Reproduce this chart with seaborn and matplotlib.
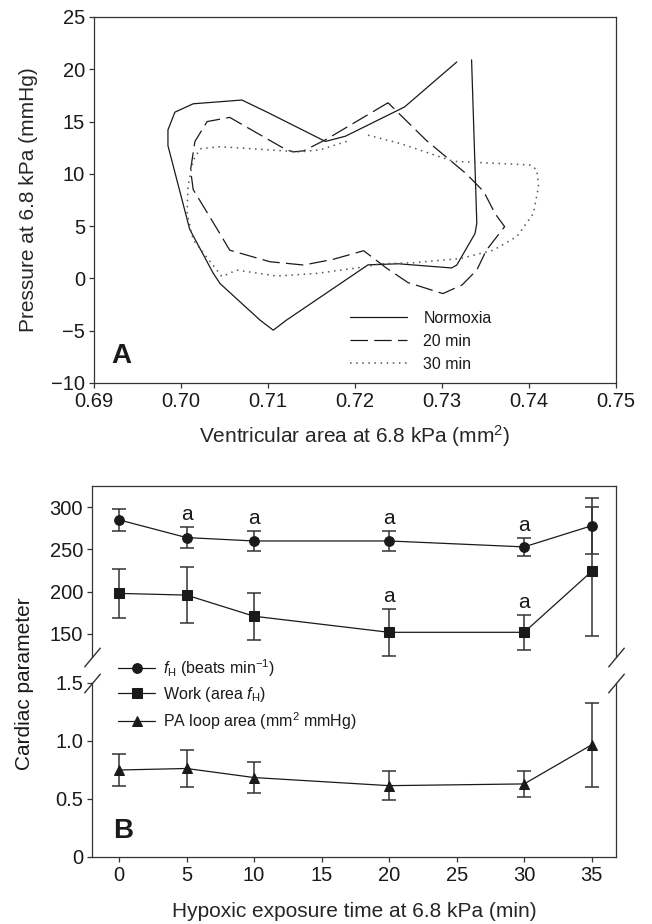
import seaborn as sns
import matplotlib.pyplot as plt

# Panel A: pressure-area loops
normoxia_area = [0.7317, 0.7257, 0.7189, 0.7166, 0.7099, 0.7070, 0.7014, 0.6993, 0.6985, 0.6985,
                 0.7010, 0.7037, 0.7045, 0.7091, 0.7106, 0.7121, 0.7215, 0.7250, 0.7311, 0.7317,
                 0.7338, 0.7340, 0.7334]
normoxia_pressure = [20.7, 16.4, 13.6, 13.1, 15.9, 17.06, 16.7, 15.9, 14.2, 12.7,
                     4.7, 0.5, -0.5, -4.0, -4.95, -4.0, 1.3, 1.4, 1.0, 1.28,
                     4.3, 5.3, 20.9]

min20_area = [0.7238, 0.7167, 0.7141, 0.7129, 0.7121, 0.7056, 0.7030, 0.7016, 0.7011, 0.7014,
              0.7041, 0.7056, 0.7102, 0.7141, 0.7175, 0.7210, 0.7236, 0.7261, 0.7301, 0.7323,
              0.7340, 0.7351, 0.7372, 0.7361, 0.7348, 0.7328, 0.7282, 0.7238]
min20_pressure = [16.8, 13.3, 12.2, 12.1, 12.3, 15.4, 15.0, 13.1, 10.4, 8.5,
                  4.8, 2.7, 1.6, 1.28, 1.83, 2.65, 1.0, -0.4, -1.45, -0.63,
                  0.8, 2.7, 4.95, 6.2, 8.3, 10.0, 13.2, 16.8]

min30_area = [0.7215, 0.7252, 0.7313, 0.7401, 0.7409, 0.7411, 0.7405, 0.7386, 0.7359, 0.7321,
              0.7267, 0.7229, 0.7213, 0.7156, 0.7110, 0.7064, 0.7047, 0.7014, 0.7007, 0.7008,
              0.7014, 0.7022, 0.7045, 0.7100, 0.7137, 0.7160, 0.7194]
min30_pressure = [13.7, 12.9, 11.2, 10.85, 10.4, 8.8, 6.2, 4.0, 2.7, 1.9,
                  1.5, 1.4, 1.13, 0.48, 0.23, 0.8, 0.17, 3.7, 6.2, 8.8,
                  11.3, 12.4, 12.6, 12.3, 12.1, 12.3, 13.2]

# Panel B: cardiac parameters over hypoxic exposure
times = [0, 5, 10, 20, 30, 35]
fh = [285, 264, 260, 260, 253, 278]
fh_err = [13, 12, 12, 12, 11, 33]
work = [198, 196, 171, 152, 152, 224]
work_err = [29, 33, 28, 28, 21, 76]
pa = [0.75, 0.763, 0.685, 0.615, 0.63, 0.967]
pa_err = [0.14, 0.16, 0.133, 0.125, 0.11, 0.36]
fh_sig = [5, 10, 20, 30]
work_sig = [20, 30]

sns.set_style('ticks')
plt.rcParams['font.family'] = ['Liberation Sans', 'DejaVu Sans']
plt.rcParams['mathtext.fontset'] = 'custom'
plt.rcParams['mathtext.rm'] = 'Liberation Sans'
plt.rcParams['mathtext.it'] = 'Liberation Sans:italic'
plt.rcParams['mathtext.bf'] = 'Liberation Sans:bold'
plt.rcParams['axes.linewidth'] = 0.9
plt.rcParams['xtick.major.size'] = 3.5
plt.rcParams['ytick.major.size'] = 3.5
plt.rcParams['xtick.major.width'] = 0.9
plt.rcParams['ytick.major.width'] = 0.9
plt.rcParams['xtick.color'] = '#333333'
plt.rcParams['ytick.color'] = '#333333'
plt.rcParams['axes.edgecolor'] = '#333333'
plt.rcParams['text.color'] = '#1a1a1a'
plt.rcParams['xtick.labelcolor'] = '#1a1a1a'
plt.rcParams['ytick.labelcolor'] = '#1a1a1a'

TICK_FS = 14.5
LABEL_FS = 15

W, H = 652, 924
fig = plt.figure(figsize=(W / 100, H / 100), dpi=100)

# ---------- Panel A ----------
axA = fig.add_axes([94 / W, 1 - 383 / H, 522 / W, 366 / H])
loop_kw = dict(sort=False, estimator=None, ax=axA)
sns.lineplot(x=normoxia_area, y=normoxia_pressure, color='#1a1a1a', lw=0.9,
             label='Normoxia', **loop_kw)
sns.lineplot(x=min20_area, y=min20_pressure, color='#1a1a1a', lw=0.9,
             linestyle=(0, (14, 5)), label='20 min', **loop_kw)
sns.lineplot(x=min30_area, y=min30_pressure, color='#555555', lw=1.1,
             linestyle=(0, (1, 3)), label='30 min', **loop_kw)
axA.set_xlim(0.69, 0.75)
axA.set_ylim(-10, 25)
axA.set_xticks([0.69, 0.70, 0.71, 0.72, 0.73, 0.74, 0.75])
axA.set_xticklabels(['0.69', '0.70', '0.71', '0.72', '0.73', '0.74', '0.75'])
axA.set_yticks(range(-10, 30, 5))
axA.tick_params(labelsize=TICK_FS, pad=3)
axA.set_xlabel('Ventricular area at 6.8 kPa (mm$^2$)', fontsize=LABEL_FS, labelpad=9)
axA.set_ylabel('Pressure at 6.8 kPa (mmHg)', fontsize=LABEL_FS)
axA.yaxis.set_label_coords(-0.108, 0.5)
axA.legend(loc='upper left', bbox_to_anchor=(0.49, 0.197), frameon=False, fontsize=11.5,
           handlelength=3.6, handletextpad=1.0, labelspacing=0.5, borderpad=0, borderaxespad=0)
axA.text(0.034, 0.055, 'A', transform=axA.transAxes, fontsize=20, fontweight='bold')

# ---------- Panel B (broken y axis) ----------
axU = fig.add_axes([92 / W, 1 - 657 / H, 524 / W, 171 / H])
axL = fig.add_axes([92 / W, 1 - 857 / H, 524 / W, 174 / H], sharex=axU)

eb = dict(fmt='none', ecolor='#333333', elinewidth=1.1, capsize=5, capthick=1.1, zorder=1)
axU.errorbar(times, fh, yerr=fh_err, **eb)
axU.errorbar(times, work, yerr=work_err, **eb)
axL.errorbar(times, pa, yerr=pa_err, **eb)

line_kw = dict(color='#1a1a1a', lw=0.9, markersize=7, markeredgecolor='#1a1a1a', zorder=3)
sns.lineplot(x=times, y=fh, marker='o', ax=axU, **line_kw)
sns.lineplot(x=times, y=work, marker='s', ax=axU, **line_kw)
sns.lineplot(x=times, y=pa, marker='^', ax=axL, **line_kw)

# significance letters above the upper caps
for t in fh_sig:
    i = times.index(t)
    axU.annotate('a', xy=(t, fh[i] + fh_err[i]), xytext=(0, 5), textcoords='offset points',
                 ha='center', va='baseline', fontsize=15)
for t in work_sig:
    i = times.index(t)
    axU.annotate('a', xy=(t, work[i] + work_err[i]), xytext=(0, 5), textcoords='offset points',
                 ha='center', va='baseline', fontsize=15)

axU.set_ylim(122.8, 325)
axL.set_ylim(0, 1.5)
axU.set_xlim(-2, 36.8)
axU.set_yticks([150, 200, 250, 300])
axL.set_yticks([0, 0.5, 1.0, 1.5])
axL.set_yticklabels(['0', '0.5', '1.0', '1.5'])
axL.set_xticks(range(0, 40, 5))
axU.spines['bottom'].set_visible(False)
axL.spines['top'].set_visible(False)
axU.tick_params(axis='x', bottom=False, labelbottom=False)
axU.tick_params(labelsize=TICK_FS, pad=3)
axL.tick_params(labelsize=TICK_FS, pad=3)
axL.set_xlabel('Hypoxic exposure time at 6.8 kPa (min)', fontsize=LABEL_FS, labelpad=12)
fig.text(25 / W, 1 - 684 / H, 'Cardiac parameter', rotation=90, ha='center', va='center',
         fontsize=LABEL_FS)

# break marks
bk = dict(marker=[(-1, -1.2), (1, 1.2)], markersize=14, linestyle='none', color='#333333',
          mec='#333333', mew=1.0, clip_on=False)
axU.plot([0, 1], [0, 0], transform=axU.transAxes, **bk)
axL.plot([0, 1], [1, 1], transform=axL.transAxes, **bk)

# legend for panel B
hs = [l for l in axU.get_lines() if l.get_marker() in ('o', 's')] + \
     [l for l in axL.get_lines() if l.get_marker() == '^']
axL.legend(hs, [r'$f_{\rm H}$ (beats min$^{-1}$)', r'Work (area $f_{\rm H}$)',
                r'PA loop area (mm$^2$ mmHg)'],
           loc='upper left', bbox_to_anchor=(0.05, 1.15), frameon=False, fontsize=11.5,
           handlelength=2.3, handletextpad=0.5, labelspacing=0.4, borderpad=0, borderaxespad=0)
axL.text(0.04, 0.11, 'B', transform=axL.transAxes, fontsize=20, fontweight='bold')

fig.savefig('out.png', dpi=100)
